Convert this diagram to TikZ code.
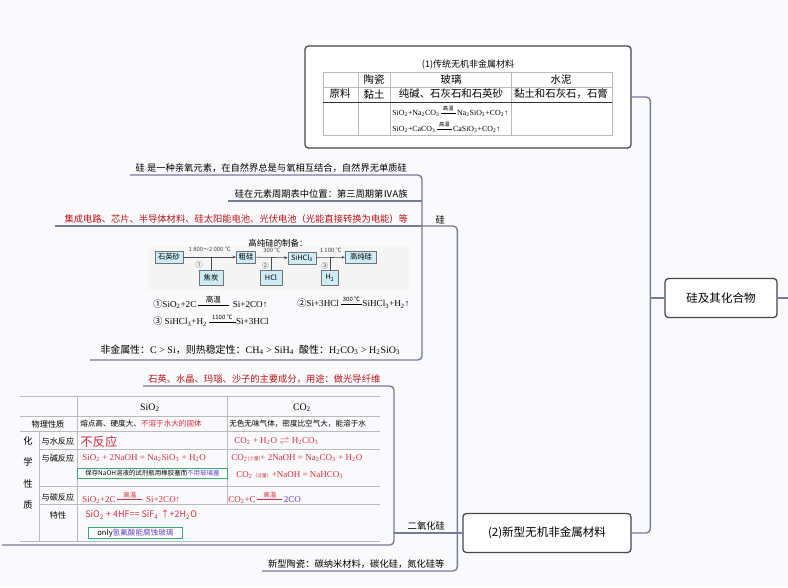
\documentclass[tikz,border=0pt]{standalone}
\usepackage{amsmath}
\usepackage[no-math]{fontspec}
\setmainfont{Noto Sans CJK SC}
\newfontfamily\cjkf{Noto Sans CJK SC}
\newfontfamily\chemfont{Liberation Serif}
\usetikzlibrary{arrows.meta,calc,positioning}

\definecolor{linkc}{RGB}{118,124,150}
\definecolor{framec}{RGB}{70,70,72}
\definecolor{topred}{RGB}{185,20,25}
\definecolor{tabred}{RGB}{210,45,60}
\definecolor{tabpur}{RGB}{105,65,200}
\definecolor{tabgreen}{RGB}{60,170,110}
\definecolor{flowfill}{RGB}{206,236,246}
\definecolor{gridc}{RGB}{185,185,190}
\definecolor{paper}{RGB}{250,250,252}

\newcommand{\fsz}[1]{\fontsize{#1}{#1}\selectfont}
\newcommand{\subn}[1]{\textsubscript{#1}}
\newcommand{\rxcond}[3][4]{$\mathrel{\overset{\text{\cjkf\fsz{#1}#3}}{\rule[0.6ex]{#2}{0.35pt}}}$}

\tikzset{
  link/.style={draw=linkc,line width=1pt,rounded corners=3pt},
  topic/.style={inner xsep=0pt,inner ysep=1.6pt,font=\fsz{6.6},anchor=south west},
  mainbox/.style={draw=framec,fill=white,line width=0.9pt,rounded corners=2.5pt,font=\fsz{8.2}},
  flowbox/.style={draw=black!55,fill=flowfill,inner sep=1pt,font=\fsz{5.2},minimum height=0.3cm},
  tabline/.style={draw=gridc,line width=0.4pt},
  tabcell/.style={inner sep=0pt,font=\fsz{7.4}},
  rx/.style={anchor=west,inner sep=0pt,font=\chemfont\fsz{6.4},text=tabred},
  eqn/.style={anchor=west,inner sep=0pt,font=\chemfont\fsz{6.5}},
  tipbox/.style={draw=tabgreen,fill=white,line width=0.6pt,inner sep=0.8pt,anchor=west},
}

\begin{document}
\begin{tikzpicture}[x=0.025cm,y=-0.025cm,>={Stealth[length=2.5pt,width=2pt]}]
\fill[paper] (0,0) rectangle (788,587);
\useasboundingbox (0,0) rectangle (788,587);

% main boxes
\node[mainbox,minimum width=2.8cm,minimum height=0.975cm] (root) at (721,298) {硅及其化合物};
\node[mainbox,minimum width=8.15cm,minimum height=2.55cm] (trad) at (468,97) {};
\node[mainbox,minimum width=4.2cm,minimum height=0.975cm] (newm) at (547,533) {(2)新型无机非金属材料};
\coordinate (rootin) at ($(root.west)+(-14,0)$);
\coordinate (edge) at (788,298);
\coordinate (newin) at ($(newm.west)+(-5,0)$);

\draw[link] (root.east) -- (edge);
\draw[link] (trad.east) -| (rootin);
\draw[link] (newm.east) -| (rootin);
\draw[link] (rootin) -- (root.west);

% topics
\node[topic,minimum width=0.9cm] (si) at (422,226) {硅};
\node[topic,minimum width=1.6cm] (sio2) at (394,533) {二氧化硅};
\node[topic,minimum width=4.7cm] (ceram) at (262,571) {新型陶瓷：碳纳米材料，碳化硅，氮化硅等};
\node[topic,minimum width=7.05cm] (s1) at (130,175) {硅 是一种亲氧元素，在自然界总是与氧相互结合，自然界无单质硅};
\node[topic,minimum width=4.65cm] (s2) at (228,201) {硅在元素周期表中位置：第三周期第ⅣA族};
\node[topic,minimum width=9.05cm,text=topred] (s3) at (55,226) {集成电路、芯片、半导体材料、硅太阳能电池、光伏电池（光能直接转换为电能）等};
\node[topic,minimum width=8.3cm,minimum height=3.35cm] (prep) at (90,360) {};
\node[topic,minimum width=6.05cm,text=topred] (d1) at (143,386) {石英、水晶、玛瑙、沙子的主要成分，用途：做光导纤维};
\node[topic,minimum width=9.8cm,minimum height=3.75cm] (sotab) at (2,545) {};

\draw[link] (si.south west) -| (newin);
\draw[link] (sio2.south west) -- (newm.west);
\draw[link] (ceram.south west) -| (newin);
\draw[link] (s1.south west) -| (si.south west);
\draw[link] (s2.south west) -- (s2.south west -| si.south west);
\draw[link] (s3.south west) -- (si.south west);
\draw[link] (prep.south west) -| (si.south west);
\draw[link] (d1.south west) -| (sio2.south west);
\draw[link] (sotab.south west) -| (sio2.south west);

% table (1)
\node[font=\fsz{6.4}] (tradttl) at (468,65) {(1)传统无机非金属材料};
\draw[tabline] (323,72) rectangle (612,135);
\foreach \x in {358,390,511} \draw[tabline] (\x,72) -- (\x,135);
\draw[tabline] (323,87) -- (612,87);
\draw[tabline,draw=black!80] (323,102) -- (612,102);
\foreach \x/\t [count=\i] in {374/陶瓷,451/玻璃,561/水泥}
  \node[tabcell] (th\i) at (\x,80) {\t};
\foreach \x/\t [count=\i] in {340/原料,374/黏土,451/纯碱、石灰石和石英砂,561/黏土和石灰石，石膏}
  \node[tabcell] (tr\i) at (\x,94) {\t};
\node[anchor=west,inner sep=0pt,font=\chemfont\fsz{5.6}] (gl1) at (392,111) {SiO\subn{2}+Na\subn{2}CO\subn{3}\,\rxcond[3.8]{1.9em}{高温}\,Na\subn{2}SiO\subn{3}+CO\subn{2}↑};
\node[anchor=west,inner sep=0pt,font=\chemfont\fsz{5.6}] (gl2) at (392,127) {SiO\subn{2}+CaCO\subn{3}\,\rxcond[3.8]{1.9em}{高温}\,CaSiO\subn{3}+CO\subn{2}↑};

% high purity silicon
\fill[black!4] (148,247) rectangle (409,290);
\node[font=\fsz{6}] (prepttl) at (278,243) {高纯硅的制备：};
\node[flowbox,minimum width=0.7cm] (qs) at (169,257) {石英砂};
\node[flowbox,minimum width=0.6cm,minimum height=0.37cm] (jt) at (211,278) {焦炭};
\node[flowbox,minimum width=0.48cm] (cg) at (246,257) {粗硅};
\node[flowbox,minimum width=0.55cm,minimum height=0.37cm] (hcl) at (271,278) {HCl};
\node[flowbox,minimum width=0.7cm] (sh) at (302,258) {SiHCl\subn{3}};
\node[flowbox,minimum width=0.42cm,minimum height=0.37cm] (hh) at (330,278) {H\subn{2}};
\node[flowbox,minimum width=0.78cm] (pure) at (361,257) {高纯硅};
\draw[->,black!70,line width=0.4pt] (qs) -- (cg)
  node[midway,above=0pt,font=\fsz{4.2}] (t1a) {1 800～2 000 ℃}
  node[pos=0.3,below=0pt,font=\fsz{5}] (t1b) {①};
\draw[->,black!70,line width=0.4pt] (cg) -- (sh)
  node[midway,above=0pt,font=\fsz{4.2}] (t2a) {300 ℃}
  node[pos=0.3,below=0pt,font=\fsz{5}] (t2b) {②};
\draw[->,black!70,line width=0.4pt] (sh) -- (pure)
  node[midway,above=0pt,font=\fsz{4.2}] (t3a) {1 100 ℃}
  node[pos=0.3,below=0pt,font=\fsz{5}] (t3b) {③};
\draw[black!70,line width=0.4pt] (jt.north) -- (jt.north |- qs.east);
\draw[black!70,line width=0.4pt] (hcl.north) -- (hcl.north |- cg.east);
\draw[black!70,line width=0.4pt] (hh.north) -- (hh.north |- sh.east);
\node[eqn] (eq1) at (153,302) {{\cjkf ①}SiO\subn{2}+2C\,\rxcond[5.4]{3.4em}{高温}\, Si+2CO↑};
\node[eqn] (eq2) at (297,302) {{\cjkf ②}Si+3HCl\,\rxcond[4.2]{2.4em}{300 ℃}SiHCl\subn{3}+H\subn{2}↑};
\node[eqn] (eq3) at (153,320) {{\cjkf ③} SiHCl\subn{3}+H\subn{2}\,\rxcond[4.2]{3em}{1100 ℃}Si+3HCl};
\node[anchor=west,inner sep=0pt,font=\fsz{7.1}] (nonmet) at (100,350) {非金属性：{\chemfont C > Si}，则热稳定性：{\chemfont CH\subn{4} > SiH\subn{4}}\enspace 酸性：{\chemfont H\subn{2}CO\subn{3} > H\subn{2}SiO\subn{3}}};

% SiO2 / CO2 table
\draw[tabline] (20,396) -- (380,396);
\draw[tabline] (20,416) -- (380,416);
\draw[tabline] (20,431) -- (380,431);
\foreach \y in {449,486,504} \draw[tabline] (39,\y) -- (380,\y);
\draw[tabline] (20,541) -- (380,541);
\draw[tabline] (77,396) -- (77,541);
\draw[tabline] (39,431) -- (39,541);
\draw[tabline] (227,396) -- (227,504);
\node[font=\chemfont\fsz{7}] (hd1) at (150,408) {SiO\subn{2}};
\node[font=\chemfont\fsz{7}] (hd2) at (302,408) {CO\subn{2}};
\node[font=\fsz{5.8}] (phy) at (48,424) {物理性质};
\node[anchor=west,inner sep=0pt,font=\fsz{5.4}] (phy1) at (80,424) {熔点高、硬度大、\textcolor{tabred}{不溶于水大的固体}};
\node[anchor=west,inner sep=0pt,font=\fsz{5.4}] (phy2) at (229,424) {无色无味气体，密度比空气大，能溶于水};
\foreach \t/\y [count=\i] in {化/441,学/462,性/484,质/505}
  \node[font=\fsz{6.6}] (chem\i) at (28,\y) {\t};
\foreach \t/\y [count=\i] in {与水反应/441,与碱反应/458,与碳反应/497,特性/515}
  \node[font=\fsz{5.8}] (rw\i) at (58,\y) {\t};
\node[anchor=west,inner sep=0pt,font=\fsz{8.8},text=tabred] (nr) at (80,442) {不反应};
\node[rx] (w2) at (234,441) {CO\subn{2} + H\subn{2}O $\rightleftharpoons$ H\subn{2}CO\subn{3}};
\node[rx] (b1) at (82,458) {SiO\subn{2} + 2NaOH = Na\subn{2}SiO\subn{3} + H\subn{2}O};
\node[rx] (b2) at (231,458) {CO\subn{2}{\cjkf\fsz{3.4}(少量)}+ 2NaOH = Na\subn{2}CO\subn{3} + H\subn{2}O};
\node[tipbox,minimum width=3.75cm,minimum height=0.25cm,font=\fsz{4.6}] (tip1) at (77,473) {保存NaOH溶液的试剂瓶用橡胶塞而\textcolor{tabpur}{不用玻璃塞}};
\node[rx] (b3) at (236,475) {CO\subn{2}{\cjkf\fsz{3.4}（过量）}+NaOH = NaHCO\subn{3}};
\node[rx] (c1) at (82,497) {SiO\subn{2}+2C\,\rxcond[4.6]{2.8em}{高温}\, Si+2CO↑};
\node[rx] (c2) at (228,497) {CO\subn{2}+C\,\rxcond[4.6]{2.8em}{高温}\,\textcolor{tabpur}{2CO}};
\node[anchor=west,inner sep=0pt,font=\fsz{6.4},text=tabred] (hf) at (85,515) {SiO\subn{2} + 4HF== SiF\subn{4} ↑+2H\subn{2}O};
\node[tipbox,minimum width=2.35cm,minimum height=0.27cm,font=\fsz{5.4}] (tip2) at (88,533) {only\textcolor{tabpur}{氢氟酸能腐蚀玻璃}};
\end{tikzpicture}
\end{document}
